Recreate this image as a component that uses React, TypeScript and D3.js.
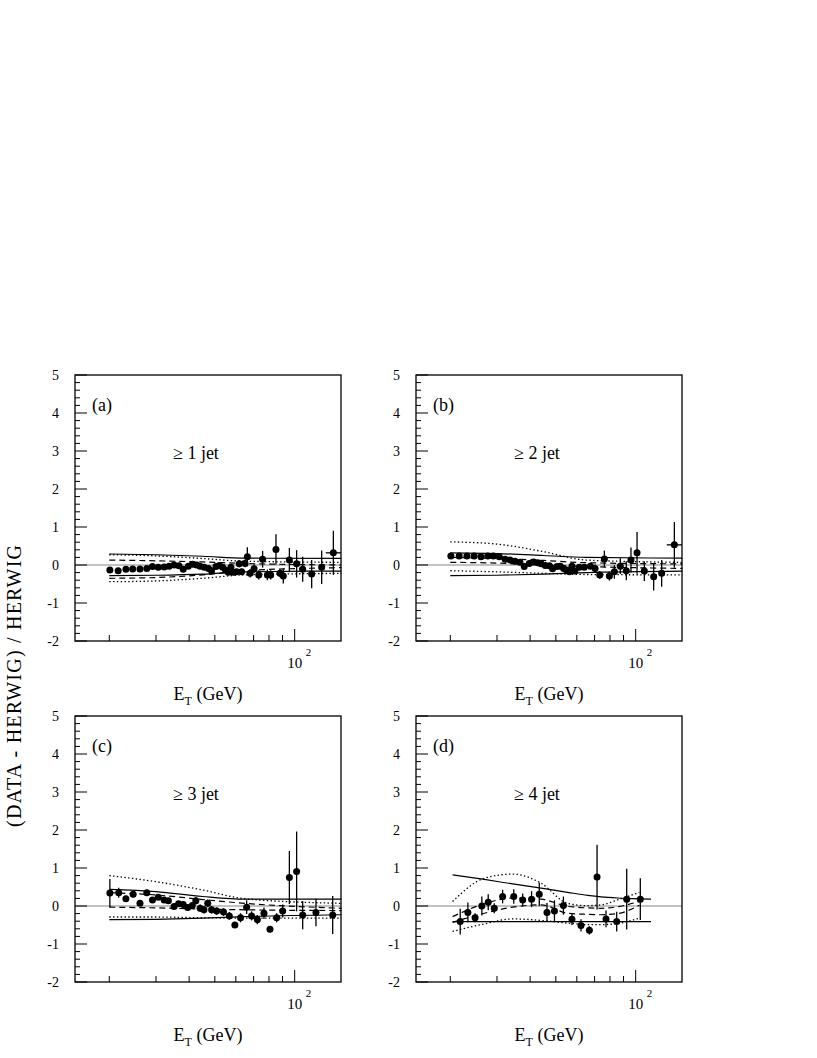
//@ts-nocheck
import * as d3 from "d3";

// ---- data ----
const X_TICKS = [20, 30, 40, 50, 60, 70, 80, 90, 100];
const Y_LABELS = [5, 4, 3, 2, 1, 0, -1, -2];

// (a) >= 1 jet
const A_ET = [20.1, 21.6, 23.1, 24.5, 26.1, 27.7, 29.1, 30.6, 32.2, 33.6, 35.1, 36.6, 38.0, 39.7, 41.2, 42.7, 44.0, 45.6, 47.3, 48.6, 50.5, 52.0, 53.5, 54.9, 56.2, 57.5, 58.7, 60.4, 61.8, 63.1, 65.0, 66.3, 67.9, 70.3, 73.2, 75.7, 78.9, 81.2, 85.0, 88.0, 90.6, 95.5, 101.7, 107.2, 115.9, 126.4, 139.9];
const A_VAL = [-0.13, -0.15, -0.11, -0.105, -0.105, -0.09, -0.04, -0.06, -0.05, -0.03, 0, -0.02, -0.11, -0.03, 0.02, 0, -0.03, -0.06, -0.09, -0.15, -0.04, -0.01, -0.06, -0.13, -0.19, -0.06, -0.19, -0.18, 0.03, -0.18, 0.04, 0.22, -0.22, -0.1, -0.26, 0.15, -0.26, -0.26, 0.41, -0.22, -0.29, 0.13, 0.03, -0.11, -0.24, -0.06, 0.32];
const A_ERR = [0.03, 0.03, 0.03, 0.03, 0.03, 0.03, 0.03, 0.03, 0.03, 0.03, 0.03, 0.03, 0.03, 0.03, 0.03, 0.03, 0.03, 0.03, 0.03, 0.03, 0.05, 0.05, 0.05, 0.05, 0.05, 0.05, 0.07, 0.07, 0.09, 0.08, 0.1, 0.25, 0.11, 0.12, 0.12, 0.22, 0.14, 0.12, 0.4, 0.1, 0.2, 0.32, 0.36, 0.33, 0.37, 0.44, 0.58];
const A_LAST_BIN = [131, 149.5];

// (b) >= 2 jet
const B_ET = [20.1, 21.6, 23.1, 24.6, 26.1, 27.7, 29.1, 30.6, 32.2, 33.6, 35.1, 36.6, 38.0, 39.7, 41.2, 42.7, 44.0, 45.6, 47.3, 48.6, 50.5, 52.0, 53.5, 54.9, 56.2, 57.5, 59.0, 61.3, 64.0, 67.5, 70.3, 73.2, 76.2, 79.6, 83.1, 87.5, 92.2, 96.0, 101.2, 107.8, 116.9, 125.3, 139.9];
const B_VAL = [0.24, 0.24, 0.24, 0.24, 0.22, 0.24, 0.24, 0.22, 0.15, 0.13, 0.1, 0.07, -0.04, 0.04, 0.08, 0.06, 0.03, -0.01, -0.02, -0.1, -0.04, -0.03, -0.09, -0.13, -0.18, -0.03, -0.16, -0.06, -0.06, -0.03, -0.09, -0.26, 0.16, -0.29, -0.18, -0.03, -0.15, 0.13, 0.32, -0.16, -0.31, -0.22, 0.53];
const B_ERR = [0.03, 0.03, 0.03, 0.03, 0.03, 0.03, 0.03, 0.03, 0.03, 0.03, 0.03, 0.03, 0.03, 0.03, 0.03, 0.03, 0.03, 0.03, 0.03, 0.03, 0.03, 0.03, 0.03, 0.03, 0.03, 0.06, 0.07, 0.06, 0.07, 0.08, 0.1, 0.1, 0.22, 0.12, 0.18, 0.21, 0.25, 0.33, 0.55, 0.26, 0.36, 0.35, 0.6];
const B_LAST_BIN = [131, 149.5];

// (c) >= 3 jet
const C_ET = [20.1, 21.7, 23.1, 24.6, 26.1, 27.7, 29.1, 30.6, 32.2, 33.4, 35.1, 36.5, 38.0, 39.5, 41.1, 42.4, 44.0, 45.5, 47.0, 48.6, 50.8, 53.9, 56.7, 59.5, 62.5, 65.9, 68.8, 72.3, 76.6, 80.7, 85.5, 90.1, 95.5, 101.7, 107.2, 120.3, 139.1];
const C_VAL = [0.34, 0.35, 0.19, 0.31, 0.07, 0.35, 0.16, 0.23, 0.16, 0.14, -0.01, 0.06, 0.04, -0.04, 0.01, 0.14, -0.06, -0.1, 0.07, -0.1, -0.13, -0.16, -0.26, -0.5, -0.31, -0.03, -0.26, -0.36, -0.19, -0.61, -0.31, -0.13, 0.75, 0.91, -0.24, -0.17, -0.24];
const C_ERR = [0.37, 0.13, 0.08, 0.08, 0.07, 0.08, 0.07, 0.07, 0.07, 0.07, 0.07, 0.07, 0.08, 0.08, 0.08, 0.1, 0.1, 0.1, 0.1, 0.1, 0.1, 0.1, 0.1, 0.08, 0.12, 0.18, 0.12, 0.12, 0.15, 0.08, 0.12, 0.17, 0.7, 1.05, 0.37, 0.36, 0.5];

// (d) >= 4 jet
const D_ET = [21.8, 23.3, 24.8, 26.3, 27.8, 29.3, 31.5, 34.7, 37.5, 40.5, 43.3, 46.3, 49.4, 53.4, 57.5, 62.2, 66.9, 71.5, 77.3, 84.8, 92.5, 104.1];
const D_VAL = [-0.41, -0.17, -0.31, 0, 0.1, -0.06, 0.25, 0.25, 0.16, 0.18, 0.31, -0.17, -0.13, 0.01, -0.35, -0.51, -0.64, 0.76, -0.34, -0.41, 0.18, 0.18];
const D_ERR = [0.34, 0.26, 0.12, 0.25, 0.21, 0.13, 0.18, 0.19, 0.17, 0.21, 0.31, 0.25, 0.28, 0.24, 0.15, 0.16, 0.11, 0.85, 0.22, 0.26, 0.8, 0.55];

// uncertainty bands (solid / dashed / dotted), sampled at knots
const ABC_KNOTS = [20, 30, 45, 65, 150];
const A_SOLID_UP = [0.29, 0.27, 0.23, 0.18, 0.175];
const A_SOLID_LO = [-0.28, -0.27, -0.24, -0.18, -0.16];
const A_DASH_UP = [0.13, 0.11, 0.08, 0.04, 0.0];
const A_DASH_LO = [-0.35, -0.33, -0.26, -0.15, -0.07];
const A_DOT_UP = [0.27, 0.24, 0.17, 0.1, 0.07];
const A_DOT_LO = [-0.44, -0.42, -0.35, -0.26, -0.22];

const B_SOLID_UP = [0.32, 0.3, 0.25, 0.2, 0.18];
const B_SOLID_LO = [-0.28, -0.27, -0.24, -0.2, -0.16];
const B_DASH_UP = [0.2, 0.17, 0.12, 0.06, 0.03];
const B_DASH_LO = [0.07, 0.05, 0.0, -0.04, -0.09];
const B_DOT_UP = [0.61, 0.55, 0.35, 0.13, 0.07];
const B_DOT_LO = [-0.15, -0.18, -0.22, -0.25, -0.26];

const C_SOLID_UP = [0.44, 0.38, 0.25, 0.18, 0.18];
const C_SOLID_LO = [-0.36, -0.35, -0.32, -0.28, -0.23];
const C_DASH_UP = [0.35, 0.29, 0.17, 0.07, -0.06];
const C_DASH_LO = [-0.03, -0.05, -0.08, -0.1, -0.12];
const C_DOT_UP = [0.8, 0.64, 0.42, 0.19, 0.07];
const C_DOT_LO = [-0.29, -0.29, -0.31, -0.32, -0.32];

const D_KNOTS = [20.4, 26.9, 34.4, 44.0, 55.4, 65.9, 74.0, 85.5, 103.2, 114.2];
const D_SOLID_UP = [0.82, 0.7, 0.58, 0.47, 0.36, 0.28, 0.24, 0.21, 0.19, 0.18];
const D_SOLID_LO = [-0.41, -0.41, -0.41, -0.41, -0.41, -0.41, -0.41, -0.41, -0.41, -0.41];
const D_DASH_UP = [-0.28, 0.06, 0.21, 0.18, -0.01, -0.05, -0.06, -0.02, 0.12, NaN];
const D_DASH_LO = [-0.43, -0.19, -0.03, 0.03, -0.19, -0.22, -0.23, -0.2, 0.02, NaN];
const D_DOT_UP = [0.12, 0.73, 0.84, 0.6, 0.07, 0.01, 0.03, 0.16, 0.36, NaN];
const D_DOT_LO = [-0.67, -0.47, -0.34, -0.38, -0.45, -0.49, -0.49, -0.46, -0.32, NaN];

const PANELS = [
  { id: "a", jets: 1, col: 0, row: 0, et: A_ET, val: A_VAL, err: A_ERR, lastBin: A_LAST_BIN, knots: ABC_KNOTS,
    bands: { solid: [A_SOLID_UP, A_SOLID_LO], dash: [A_DASH_UP, A_DASH_LO], dot: [A_DOT_UP, A_DOT_LO] } },
  { id: "b", jets: 2, col: 1, row: 0, et: B_ET, val: B_VAL, err: B_ERR, lastBin: B_LAST_BIN, knots: ABC_KNOTS,
    bands: { solid: [B_SOLID_UP, B_SOLID_LO], dash: [B_DASH_UP, B_DASH_LO], dot: [B_DOT_UP, B_DOT_LO] } },
  { id: "c", jets: 3, col: 0, row: 1, et: C_ET, val: C_VAL, err: C_ERR, lastBin: null, knots: ABC_KNOTS,
    bands: { solid: [C_SOLID_UP, C_SOLID_LO], dash: [C_DASH_UP, C_DASH_LO], dot: [C_DOT_UP, C_DOT_LO] } },
  { id: "d", jets: 4, col: 1, row: 1, et: D_ET, val: D_VAL, err: D_ERR, lastBin: null, knots: D_KNOTS,
    bands: { solid: [D_SOLID_UP, D_SOLID_LO], dash: [D_DASH_UP, D_DASH_LO], dot: [D_DOT_UP, D_DOT_LO] } },
];

const FONT = '"Liberation Serif", "DejaVu Serif", "Times New Roman", serif';
const SIZE = 266;
const LEFT = 75;
const TOP = 375;
const STEP = 341;

const DASHES = { solid: null, dash: "6,4", dot: "1.4,2.4" };

function Panel({ p }) {
  const x = d3.scaleLog([14.85, 149.5], [0, SIZE]);
  const y = d3.scaleLinear([-2, 5], [SIZE, 0]);
  const line = d3
    .line()
    .defined((d) => !isNaN(d[1]))
    .x((d) => x(d[0]))
    .y((d) => y(d[1]))
    .curve(d3.curveMonotoneX);

  const tx = LEFT + p.col * STEP;
  const ty = TOP + p.row * STEP;

  return (
    <g transform={`translate(${tx},${ty})`}>
      {/* zero line */}
      <line x1={0} x2={SIZE} y1={y(0)} y2={y(0)} stroke="#777" strokeWidth={0.9} />

      {/* bands */}
      {Object.entries(p.bands).map(([kind, pair]) =>
        pair.map((vals, j) => (
          <path
            key={kind + j}
            d={line(p.knots.map((k, i) => [k, vals[i]]))}
            fill="none"
            stroke="#000"
            strokeWidth={kind === "dot" ? 1.3 : 1.2}
            strokeDasharray={DASHES[kind]}
          />
        ))
      )}

      {/* data points */}
      <g stroke="#000" strokeWidth={1.3}>
        {p.et.map((e, i) => (
          <line key={"e" + i} x1={x(e)} x2={x(e)} y1={y(p.val[i] - p.err[i])} y2={y(p.val[i] + p.err[i])} />
        ))}
        {p.lastBin && (
          <line
            x1={x(p.lastBin[0])}
            x2={x(p.lastBin[1])}
            y1={y(p.val[p.val.length - 1])}
            y2={y(p.val[p.val.length - 1])}
          />
        )}
      </g>
      <g fill="#000">
        {p.et.map((e, i) => (
          <circle key={"p" + i} cx={x(e)} cy={y(p.val[i])} r={3.5} />
        ))}
      </g>

      {/* frame and ticks */}
      <rect x={0} y={0} width={SIZE} height={SIZE} fill="none" stroke="#000" strokeWidth={1.3} />
      <g stroke="#000" strokeWidth={1}>
        {y.ticks(35).map((t) => {
          const major = Math.abs(t - Math.round(t)) < 1e-6;
          return <line key={"yt" + t} x1={0} x2={major ? 12 : 5} y1={y(t)} y2={y(t)} />;
        })}
        {X_TICKS.map((t) => (
          <line key={"xt" + t} x1={x(t)} x2={x(t)} y1={SIZE} y2={SIZE - (t === 100 ? 12 : 6)} />
        ))}
      </g>
      <g style={{ fontFamily: FONT }}>
        <g fontSize={14} textAnchor="end">
          {Y_LABELS.map((t) => (
            <text key={"yl" + t} x={-16} y={y(t) + 5}>
              {t}
            </text>
          ))}
        </g>
        <text x={x(100)} y={SIZE + 27} fontSize={15} textAnchor="middle">
          10
        </text>
        <text x={x(100) + 11} y={SIZE + 15} fontSize={11}>
          2
        </text>
        <text x={133} y={SIZE + 59} fontSize={18} textAnchor="middle">
          E<tspan dy={5} fontSize={12}>T</tspan>
          <tspan dy={-5}> (GeV)</tspan>
        </text>
        <text x={17} y={36} fontSize={18}>
          ({p.id})
        </text>
        <text x={98} y={84} fontSize={18}>
          {"\u2265 " + p.jets + " jet"}
        </text>
      </g>
    </g>
  );
}

export default function App() {
  return (
    <svg
      width={817}
      height={1058}
      style={{ position: "absolute", left: 0, top: 0, background: "#fff" }}
    >
      <rect width={817} height={1058} fill="#fff" />
      {PANELS.map((p) => (
        <Panel key={p.id} p={p} />
      ))}
      <text
        transform="translate(21,686) rotate(-90)"
        style={{ fontFamily: FONT }}
        fontSize={20}
        textAnchor="middle"
        textLength={282}
        lengthAdjust="spacing"
      >
        (DATA - HERWIG) / HERWIG
      </text>
    </svg>
  );
}
